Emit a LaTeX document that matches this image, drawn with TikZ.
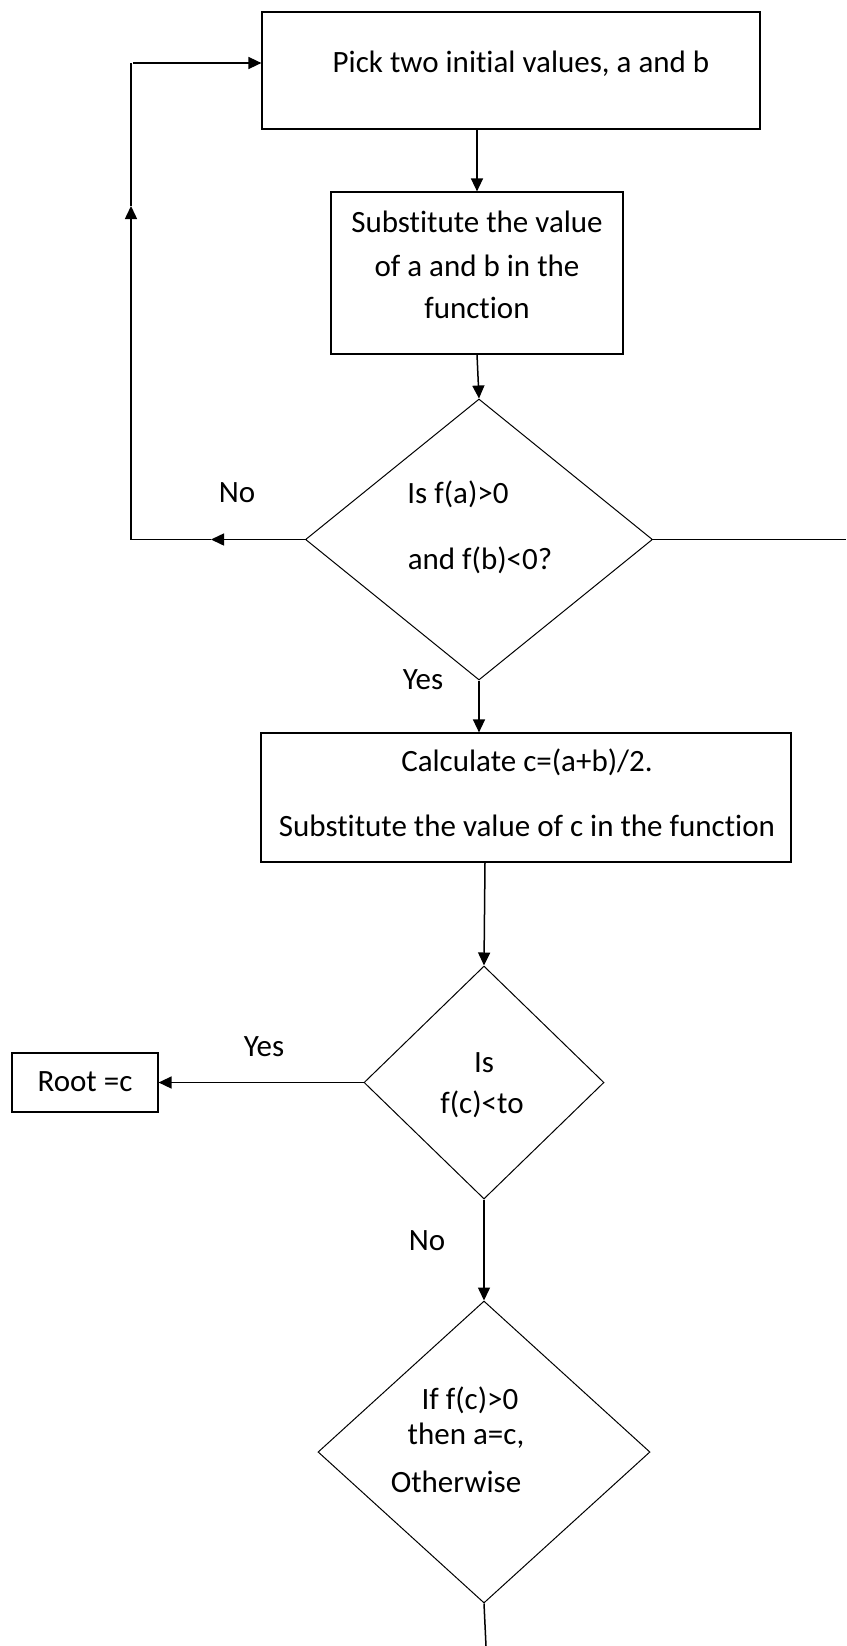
\documentclass[tikz,border=0pt]{standalone}
\usepackage{fontspec}
\setmainfont{Carlito}[Ligatures=NoCommon]
\usetikzlibrary{shapes.geometric, arrows.meta}
\begin{document}
\begin{tikzpicture}[x=1pt,y=-1pt,
  box/.style={draw, line width=1.2pt, inner sep=0pt, rectangle},
  dia/.style={draw, diamond, line width=1pt, inner sep=0pt},
  lbl/.style={font=\fontsize{31}{37}\selectfont, inner sep=0pt, anchor=center},
  conn/.style={line width=1.5pt},
  arr/.style={conn, -{Triangle[length=13pt,width=12pt]}}]
\useasboundingbox (0,0) rectangle (846,1646);
% shapes
\node[box, minimum width=498pt, minimum height=117pt] (b1) at (511,70.5) {};
\node[box, minimum width=292pt, minimum height=162pt] (b2) at (477,273) {};
\node[dia, minimum width=347pt, minimum height=281pt] (d1) at (479,539.5) {};
\node[box, minimum width=530pt, minimum height=129pt] (b3) at (526,797.5) {};
\node[dia, minimum width=240pt, minimum height=233pt] (d2) at (484,1082.5) {};
\node[box, minimum width=146pt, minimum height=59pt] (root) at (85,1082.5) {};
\node[dia, minimum width=332pt, minimum height=302pt] (d3) at (484,1452) {};
% texts
\node[lbl] (t1) at (521,64) {Pick two initial values, a and b};
\node[lbl] (t2a) at (477,222) {Substitute the value};
\node[lbl] (t2b) at (477,266) {of a and b in the};
\node[lbl] (t2c) at (477,308) {function};
\node[lbl] (t3a) at (458,494) {Is f(a)>0};
\node[lbl] (t3b) at (480,560) {and f(b)<0?};
\node[lbl] (t4a) at (527,762) {Calculate c=(a+b)/2.};
\node[lbl] (t4b) at (527,826) {Substitute the value of c in the function};
\node[lbl] (t5a) at (484,1063) {Is};
\node[lbl] (t5b) at (482,1104) {f(c)<to};
\node[lbl] (t6) at (85,1082) {Root =c};
\node[lbl] (t7a) at (470,1400) {If f(c)>0};
\node[lbl] (t7b) at (466,1436) {then a=c,};
\node[lbl] (t7c) at (456,1482) {Otherwise};
\node[lbl] (no1) at (237,493) {No};
\node[lbl] (yes1) at (423,680) {Yes};
\node[lbl] (yes2) at (264,1047) {Yes};
\node[lbl] (no2) at (427,1241) {No};
% coordinates
\coordinate (noarr) at (211,539.5);
\coordinate (lc) at (131,539.5);
\coordinate (uparr) at (131,206);
\coordinate (tc) at (131,63);
\coordinate (tcs) at (133,63);
\coordinate (re) at (846,539.5);
\coordinate (bot) at (486,1646);
% connectors
\draw[arr] (b2.north |- b1.south) -- (b2.north);
\draw[arr] (b2.south) -- (d1.north);
\draw[arr] (d1.west) -- (noarr);
\draw[line width=1pt] (noarr) -- (lc);
\draw[arr] (lc) -- (uparr);
\draw[conn] (uparr) -- (tc);
\draw[arr] (tcs) -- (tcs -| b1.west);
\draw[line width=1pt] (d1.east) -- (re);
\draw[arr] (d1.south) -- (d1.south |- b3.north);
\draw[arr] ([xshift=-41pt]b3.south) -- (d2.north);
\draw[arr] (d2.west) -- (root.east);
\draw[arr] (d2.south) -- (d3.north);
\draw[conn] (d3.south) -- (bot);
\end{tikzpicture}
\end{document}
